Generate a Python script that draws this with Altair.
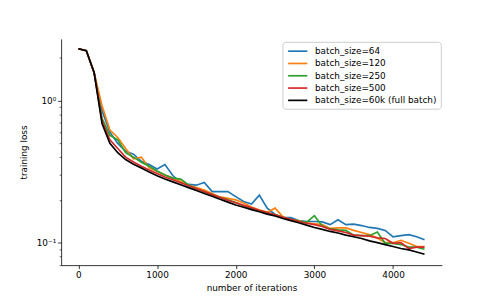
import altair as alt
import pandas as pd

iterations = list(range(0, 4500, 100))

series_names = [
    "batch_size=64",
    "batch_size=120",
    "batch_size=250",
    "batch_size=500",
    "batch_size=60k (full batch)",
]
series_colors = ["#1f77b4", "#ff7f0e", "#2ca02c", "#d62728", "#000000"]

loss_64 = [2.32, 2.25, 1.57, 0.85, 0.60, 0.50, 0.44, 0.42, 0.374, 0.355,
           0.33, 0.355, 0.297, 0.265, 0.257, 0.254, 0.265, 0.229, 0.229, 0.229,
           0.211, 0.195, 0.187, 0.216, 0.175, 0.158, 0.151, 0.150, 0.143, 0.141,
           0.141, 0.140, 0.134, 0.145, 0.134, 0.135, 0.132, 0.128, 0.126, 0.122,
           0.110, 0.112, 0.114, 0.110, 0.105]
loss_120 = [2.32, 2.25, 1.57, 0.92, 0.62, 0.55, 0.46, 0.39, 0.40, 0.336,
            0.318, 0.300, 0.285, 0.270, 0.255, 0.244, 0.235, 0.222, 0.210, 0.205,
            0.200, 0.190, 0.178, 0.170, 0.164, 0.175, 0.152, 0.145, 0.143, 0.138,
            0.136, 0.134, 0.126, 0.127, 0.127, 0.122, 0.118, 0.114, 0.108, 0.100,
            0.100, 0.104, 0.099, 0.094, 0.094]
loss_250 = [2.32, 2.25, 1.57, 0.75, 0.57, 0.53, 0.43, 0.40, 0.368, 0.345,
            0.320, 0.300, 0.285, 0.280, 0.255, 0.240, 0.228, 0.218, 0.208, 0.200,
            0.192, 0.182, 0.174, 0.168, 0.162, 0.158, 0.151, 0.146, 0.142, 0.139,
            0.155, 0.131, 0.125, 0.123, 0.122, 0.113, 0.112, 0.112, 0.119, 0.099,
            0.099, 0.097, 0.093, 0.093, 0.090]
loss_500 = [2.32, 2.25, 1.57, 0.72, 0.53, 0.46, 0.40, 0.37, 0.345, 0.325,
            0.307, 0.290, 0.277, 0.264, 0.252, 0.240, 0.229, 0.218, 0.208, 0.199,
            0.191, 0.183, 0.176, 0.169, 0.163, 0.157, 0.151, 0.146, 0.141, 0.137,
            0.134, 0.130, 0.124, 0.121, 0.118, 0.113, 0.112, 0.111, 0.108, 0.107,
            0.099, 0.100, 0.091, 0.093, 0.093]
loss_full = [2.32, 2.25, 1.57, 0.69, 0.50, 0.43, 0.385, 0.357, 0.335, 0.315,
             0.296, 0.281, 0.268, 0.256, 0.244, 0.233, 0.222, 0.212, 0.202, 0.193,
             0.184, 0.1775, 0.171, 0.165, 0.159, 0.154, 0.148, 0.143, 0.138, 0.133,
             0.128, 0.124, 0.120, 0.117, 0.113, 0.110, 0.107, 0.103, 0.100, 0.097,
             0.094, 0.091, 0.089, 0.086, 0.083]

x_ticks = [0, 1000, 2000, 3000, 4000]
y_major = [0.1, 1.0]
y_minor = [0.07, 0.08, 0.09, 0.2, 0.3, 0.4, 0.5, 0.6, 0.7, 0.8, 0.9, 2.0]

all_series = [loss_64, loss_120, loss_250, loss_500, loss_full]
rows = []
for k, (name, vals) in enumerate(zip(series_names, all_series)):
    for it, v in zip(iterations, vals):
        rows.append({"series": name, "k": k, "iteration": it, "loss": v})
df = pd.DataFrame(rows)

FONT = "DejaVu Sans"

x_enc = alt.X(
    "iteration:Q",
    scale=alt.Scale(domain=[-220, 4620], nice=False, zero=False),
    axis=alt.Axis(values=x_ticks, title="number of iterations", grid=False,
                  labelFlush=False, format="d", titlePadding=4),
)
y_scale = alt.Scale(type="log", domain=[0.0695, 2.72], nice=False)

lines = alt.Chart(df).mark_line(strokeWidth=1.7, clip=True).encode(
    x=x_enc,
    y=alt.Y("loss:Q", scale=y_scale,
            axis=alt.Axis(values=y_major, title="training loss", grid=False,
                          orient="left",
                          labelExpr="datum.value > 0.5 ? '10⁰' : '10⁻¹'",
                          titlePadding=8)),
    color=alt.Color("series:N",
                    scale=alt.Scale(domain=series_names, range=series_colors),
                    legend=alt.Legend(orient="none", legendX=225, legendY=3,
                                      title=None, symbolType="M-2,0H2",
                                      symbolSize=95, symbolStrokeWidth=1.7,
                                      symbolOffset=6,
                                      labelFont=FONT, labelFontSize=9,
                                      labelColor="black", labelLimit=0,
                                      labelOffset=11.5, rowPadding=1.5, padding=3.5,
                                      strokeColor="#cccccc", fillColor="white",
                                      cornerRadius=3)),
    order=alt.Order("k:Q"),
    detail="series:N",
)

minor = alt.Chart(df).mark_line(opacity=0).encode(
    x=x_enc,
    y=alt.Y("loss:Q", scale=y_scale,
            axis=alt.Axis(values=y_minor, labels=False, title=None, domain=False,
                          orient="left", grid=False, tickSize=2, tickWidth=0.6)),
    detail="series:N",
)

chart = alt.layer(lines, minor).resolve_axis(y="independent").properties(
    width=387, height=230,
    autosize=alt.AutoSizeParams(type="none"),
    padding={"left": 54, "top": 29, "right": 50, "bottom": 30},
).configure_view(stroke=None).configure_axis(
    domainColor="black", domainWidth=0.8, tickColor="black", tickWidth=0.8,
    tickSize=3.5, labelColor="black", labelFont=FONT, labelFontSize=9,
    titleFont=FONT, titleFontSize=9, titleFontWeight="normal", titleColor="black",
    labelPadding=2,
)

chart.save("out.html", embed_options={"renderer": "svg", "actions": False})
